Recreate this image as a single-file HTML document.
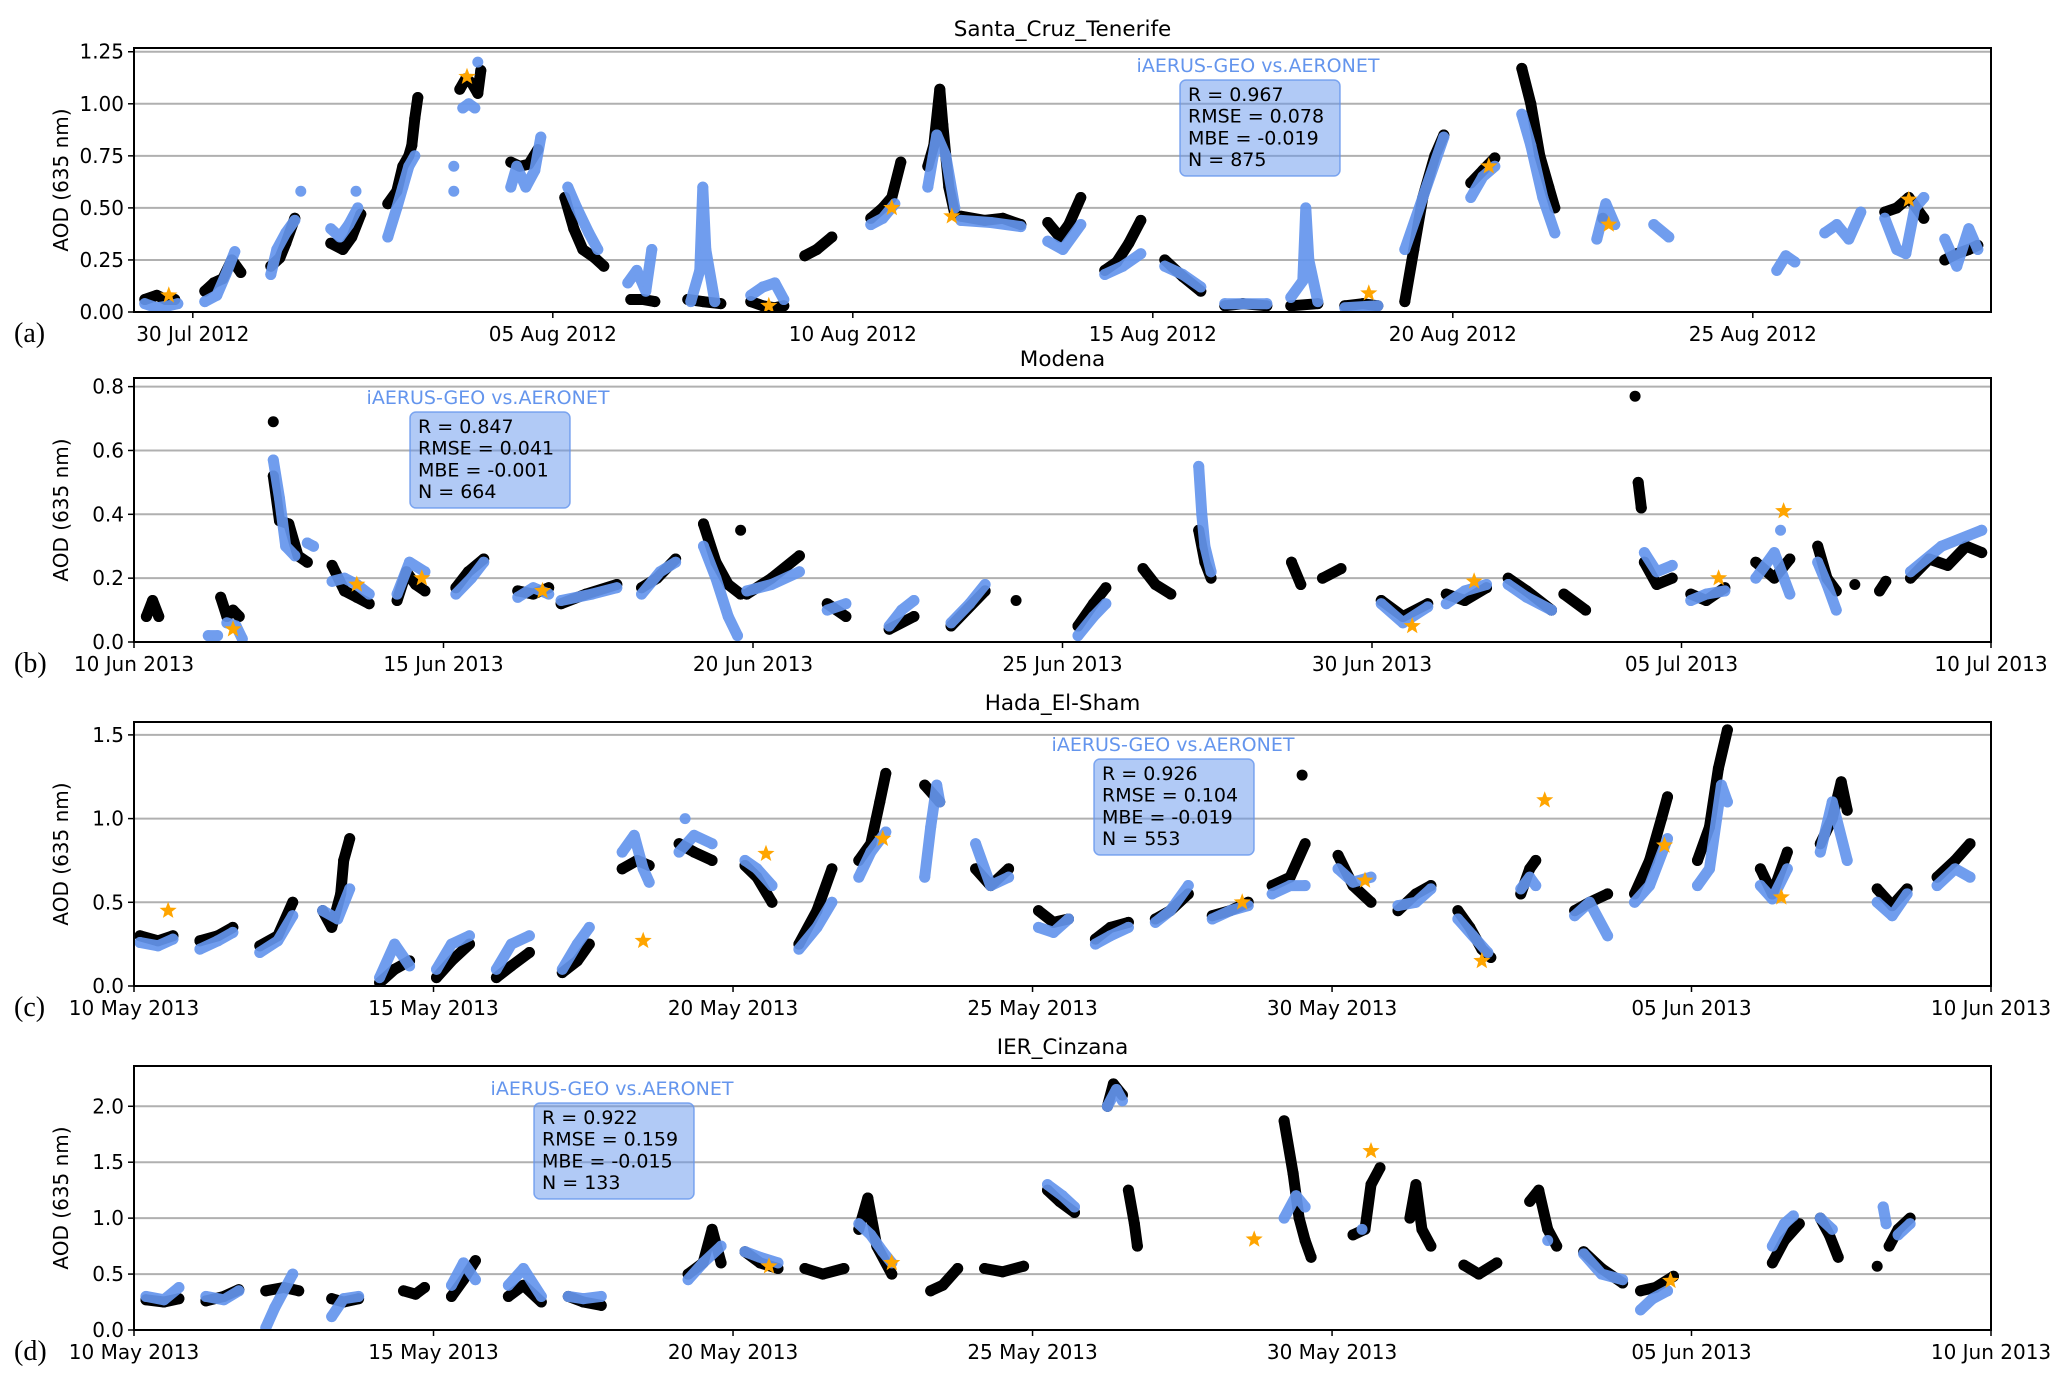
<!DOCTYPE html>
<html><head><meta charset="utf-8">
<style>
html,body{margin:0;padding:0;background:#fff;}
svg{display:block;font-family:"DejaVu Sans","Liberation Sans",sans-serif;}
</style></head>
<body>
<svg id="chart" width="2067" height="1383" viewBox="0 0 2067 1383" xmlns="http://www.w3.org/2000/svg"></svg>
<script>
// ---------- Panel (a) Santa_Cruz_Tenerife (day 0 = 30 Jul 2012) ----------
const aTickDays = [0, 6, 11, 16, 21, 26];
const aTickLabels = ["30 Jul 2012","05 Aug 2012","10 Aug 2012","15 Aug 2012","20 Aug 2012","25 Aug 2012"];
const aYTicks = [0, 0.25, 0.5, 0.75, 1.0, 1.25];
const aYLabels = ["0.00","0.25","0.50","0.75","1.00","1.25"];
const aBlack = [
[-0.8,0.06,-0.6,0.08,-0.45,0.06,-0.3,0.06],[0.2,0.1,0.35,0.14,0.5,0.16,0.65,0.25,0.8,0.19],
[1.3,0.22,1.45,0.26,1.55,0.33,1.7,0.45],[2.3,0.33,2.5,0.3,2.65,0.36,2.8,0.47],
[3.25,0.52,3.4,0.58,3.5,0.7,3.6,0.75,3.65,0.8,3.7,0.93,3.75,1.03],[4.45,1.07,4.55,1.12,4.65,1.1,4.75,1.05,4.8,1.16],
[5.3,0.72,5.45,0.7,5.6,0.71,5.75,0.78],[6.2,0.55,6.35,0.4,6.5,0.3,6.7,0.26,6.85,0.22],
[7.3,0.06,7.5,0.06,7.7,0.05],[8.25,0.06,8.5,0.05,8.8,0.04],[9.3,0.05,9.5,0.03,9.7,0.02,9.85,0.03],
[10.2,0.27,10.4,0.3,10.65,0.36],[11.3,0.45,11.5,0.5,11.65,0.55,11.8,0.72],
[12.25,0.7,12.35,0.8,12.45,1.07,12.5,0.9,12.6,0.6,12.7,0.47],[12.8,0.46,13.2,0.44,13.5,0.45,13.8,0.42],
[14.25,0.43,14.45,0.36,14.6,0.42,14.8,0.55],[15.2,0.2,15.4,0.24,15.6,0.33,15.8,0.44],
[16.2,0.25,16.5,0.17,16.8,0.1],[17.2,0.03,17.5,0.04,17.9,0.03],[18.3,0.03,18.75,0.04],[19.2,0.03,19.5,0.04,19.75,0.03],
[20.2,0.05,20.35,0.3,20.5,0.55,20.7,0.75,20.85,0.85],[21.3,0.62,21.5,0.68,21.7,0.74],
[22.15,1.17,22.3,1.0,22.45,0.75,22.6,0.6,22.7,0.5],[23.5,0.45],
[28.2,0.48,28.4,0.5,28.6,0.55,28.85,0.45],[29.2,0.25,29.4,0.28,29.6,0.3,29.75,0.32]
];
const aBlue = [
[-0.8,0.04,-0.6,0.02,-0.4,0.03,-0.25,0.04],[0.2,0.05,0.4,0.08,0.55,0.18,0.7,0.29],
[1.3,0.18,1.4,0.3,1.55,0.38,1.7,0.44],[1.8,0.58],[2.3,0.4,2.45,0.36,2.6,0.42,2.75,0.5],[2.72,0.58],
[3.25,0.36,3.4,0.5,3.5,0.6,3.6,0.7,3.7,0.75],[4.35,0.58],[4.35,0.7],[4.5,0.98,4.6,1.0,4.7,0.98],[4.75,1.2],
[5.3,0.6,5.4,0.7,5.55,0.6,5.7,0.68,5.8,0.84],[6.25,0.6,6.4,0.5,6.6,0.38,6.75,0.3],
[7.25,0.14,7.4,0.2,7.55,0.1,7.65,0.3],[8.3,0.05,8.45,0.2,8.5,0.6,8.55,0.3,8.7,0.05],
[9.3,0.08,9.5,0.12,9.7,0.14,9.85,0.06],[11.3,0.42,11.5,0.45,11.7,0.52],
[12.25,0.6,12.4,0.85,12.55,0.75,12.7,0.5],[12.8,0.44,13.3,0.43,13.8,0.41],[14.25,0.34,14.5,0.3,14.8,0.42],
[15.2,0.18,15.5,0.22,15.8,0.28],[16.2,0.22,16.5,0.18,16.8,0.12],[17.2,0.04,17.9,0.04],
[18.3,0.07,18.5,0.15,18.55,0.5,18.6,0.25,18.75,0.05],[19.2,0.02,19.75,0.03],[20.2,0.3,20.5,0.55,20.85,0.84],
[21.3,0.55,21.5,0.65,21.7,0.7],[22.15,0.95,22.3,0.8,22.5,0.55,22.7,0.38],[23.4,0.35,23.55,0.52,23.7,0.42],
[24.35,0.42,24.6,0.36],[26.4,0.2,26.55,0.27,26.7,0.24],[27.2,0.38,27.4,0.42,27.6,0.35,27.8,0.48],
[28.2,0.45,28.4,0.3,28.55,0.28,28.7,0.5,28.85,0.55],[29.2,0.35,29.4,0.22,29.6,0.4,29.75,0.3]
];
const aStars = [[-0.4,0.08],[4.57,1.13],[9.6,0.03],[11.65,0.5],[12.65,0.46],[19.6,0.09],[21.6,0.7],[23.6,0.42],[28.6,0.54]];
const aStats = ["R = 0.967","RMSE = 0.078","MBE = -0.019","N = 875"];

// ---------- Panel (b) Modena (day 0 = 10 Jun 2013) ----------
const bTickDays = [0,5,10,15,20,25,30];
const bTickLabels = ["10 Jun 2013","15 Jun 2013","20 Jun 2013","25 Jun 2013","30 Jun 2013","05 Jul 2013","10 Jul 2013"];
const bYTicks = [0,0.2,0.4,0.6,0.8];
const bYLabels = ["0.0","0.2","0.4","0.6","0.8"];
const bBlack = [
[0.2,0.08,0.3,0.13,0.4,0.08],[1.4,0.14,1.5,0.08,1.6,0.1,1.7,0.08],[2.25,0.69],
[2.25,0.52,2.35,0.38,2.5,0.37,2.65,0.27,2.8,0.25],[3.2,0.24,3.4,0.16,3.6,0.14,3.8,0.12],
[4.25,0.13,4.4,0.22,4.55,0.18,4.7,0.16],[5.2,0.17,5.4,0.22,5.65,0.26],[6.2,0.16,6.45,0.15,6.7,0.17],
[6.9,0.12,7.3,0.15,7.8,0.18],[8.2,0.17,8.45,0.2,8.75,0.26],[9.2,0.37,9.4,0.25,9.6,0.18,9.8,0.15],[9.8,0.35],
[9.9,0.15,10.3,0.2,10.75,0.27],[11.2,0.12,11.5,0.08],[12.2,0.04,12.6,0.08],[13.2,0.05,13.75,0.16],[14.25,0.13],
[15.25,0.05,15.5,0.12,15.7,0.17],[16.3,0.23,16.5,0.18,16.75,0.15],[17.2,0.35,17.3,0.25,17.4,0.2],
[18.7,0.25,18.85,0.18],[19.2,0.2,19.5,0.23],[20.15,0.13,20.5,0.08,20.9,0.12],[21.2,0.15,21.5,0.13,21.85,0.17],
[22.2,0.2,22.5,0.16,22.9,0.1],[23.1,0.15,23.45,0.1],[24.25,0.77],[24.3,0.5,24.35,0.42],[24.4,0.25,24.6,0.18,24.85,0.2],
[25.15,0.15,25.4,0.13,25.7,0.17],[26.2,0.25,26.5,0.2,26.75,0.26],[27.2,0.3,27.35,0.2,27.5,0.16],[27.8,0.18],
[28.2,0.16,28.3,0.19],[28.7,0.2,29.0,0.26,29.3,0.24,29.6,0.3,29.85,0.28]
];
const bBlue = [
[1.2,0.02,1.35,0.02],[1.5,0.06,1.65,0.05,1.75,0.01],[2.25,0.57,2.35,0.45,2.45,0.3,2.6,0.27],[2.8,0.31,2.9,0.3],
[3.2,0.19,3.4,0.2,3.6,0.18,3.8,0.15],[4.25,0.15,4.45,0.25,4.7,0.22],[5.2,0.15,5.45,0.2,5.65,0.25],
[6.2,0.14,6.45,0.17,6.7,0.15],[6.9,0.13,7.4,0.15,7.8,0.17],[8.2,0.15,8.5,0.22,8.75,0.25],
[9.2,0.3,9.4,0.2,9.6,0.08,9.75,0.02],[9.9,0.16,10.3,0.18,10.75,0.22],[11.2,0.1,11.5,0.12],
[12.2,0.05,12.4,0.1,12.6,0.13],[13.2,0.06,13.5,0.12,13.75,0.18],[15.25,0.02,15.5,0.08,15.7,0.12],
[17.2,0.55,17.25,0.4,17.3,0.3,17.4,0.22],[20.15,0.12,20.5,0.06,20.9,0.11],[21.2,0.12,21.5,0.16,21.85,0.18],
[22.2,0.18,22.5,0.14,22.9,0.1],[24.4,0.28,24.6,0.22,24.85,0.24],[25.15,0.13,25.4,0.15,25.7,0.16],
[26.2,0.2,26.5,0.28,26.75,0.15],[26.6,0.35],[27.2,0.25,27.35,0.18,27.5,0.1],[28.7,0.22,29.2,0.3,29.85,0.35]
];
const bStars = [[1.6,0.04],[3.6,0.18],[4.65,0.2],[6.6,0.16],[20.65,0.05],[21.65,0.19],[25.6,0.2],[26.65,0.41]];
const bStats = ["R = 0.847","RMSE = 0.041","MBE = -0.001","N = 664"];

// ---------- Panel (c) Hada_El-Sham (day 0 = 10 May 2013) ----------
const cTickDays = [0,5,10,15,20,26,31];
const cTickLabels = ["10 May 2013","15 May 2013","20 May 2013","25 May 2013","30 May 2013","05 Jun 2013","10 Jun 2013"];
const cYTicks = [0,0.5,1.0,1.5];
const cYLabels = ["0.0","0.5","1.0","1.5"];
const cBlack = [
[0.1,0.3,0.4,0.27,0.65,0.3],[1.1,0.27,1.4,0.3,1.65,0.35],[2.1,0.24,2.4,0.3,2.65,0.5],
[3.15,0.45,3.3,0.35,3.45,0.55,3.5,0.75,3.6,0.88],[4.1,0.02,4.35,0.1,4.6,0.15],[5.05,0.05,5.3,0.15,5.6,0.25],
[6.05,0.05,6.3,0.12,6.6,0.2],[7.15,0.08,7.4,0.15,7.6,0.25],[8.15,0.7,8.4,0.75,8.6,0.72],[9.1,0.85,9.35,0.8,9.65,0.75],
[10.2,0.72,10.4,0.65,10.65,0.5],[11.1,0.25,11.4,0.45,11.65,0.7],[12.1,0.75,12.3,0.85,12.45,1.1,12.55,1.27],
[13.2,1.2,13.45,1.1],[14.05,0.7,14.3,0.6,14.6,0.7],[15.1,0.45,15.35,0.38,15.6,0.4],[16.05,0.28,16.3,0.35,16.6,0.38],
[17.05,0.4,17.3,0.45,17.6,0.55],[18.0,0.42,18.3,0.45,18.6,0.5],[19.0,0.6,19.3,0.65,19.55,0.85],[19.5,1.26],
[20.1,0.78,20.35,0.6,20.65,0.5],[21.1,0.45,21.4,0.55,21.65,0.6],[22.1,0.45,22.3,0.35,22.5,0.22,22.65,0.17],
[23.15,0.55,23.3,0.7,23.4,0.75],[24.05,0.45,24.3,0.5,24.6,0.55],[25.05,0.55,25.3,0.75,25.5,1.0,25.6,1.13],
[26.1,0.75,26.3,0.95,26.45,1.3,26.6,1.53],[27.15,0.7,27.35,0.55,27.6,0.8],[28.15,0.85,28.35,1.0,28.5,1.22,28.6,1.05],
[29.1,0.58,29.35,0.48,29.6,0.58],[30.1,0.65,30.4,0.75,30.65,0.85]
];
const cBlue = [
[0.1,0.26,0.4,0.24,0.65,0.28],[1.1,0.22,1.4,0.27,1.65,0.32],[2.1,0.2,2.4,0.27,2.65,0.42],[3.15,0.45,3.4,0.4,3.6,0.58],
[4.1,0.05,4.35,0.25,4.6,0.12],[5.05,0.1,5.3,0.25,5.6,0.3],[6.05,0.1,6.3,0.25,6.6,0.3],[7.15,0.1,7.4,0.25,7.6,0.35],
[8.15,0.8,8.35,0.9,8.5,0.7,8.6,0.62],[9.1,0.8,9.35,0.9,9.65,0.85],[9.2,1.0],[10.2,0.75,10.4,0.7,10.65,0.6],
[11.1,0.22,11.4,0.35,11.65,0.5],[12.1,0.65,12.3,0.8,12.55,0.92],[13.2,0.65,13.3,0.95,13.4,1.2,13.45,1.1],
[14.05,0.85,14.3,0.6,14.6,0.65],[15.1,0.35,15.35,0.32,15.6,0.4],[16.05,0.25,16.3,0.3,16.6,0.35],
[17.05,0.38,17.3,0.45,17.6,0.6],[18.0,0.4,18.3,0.45,18.6,0.48],[19.0,0.55,19.3,0.6,19.55,0.6],
[20.1,0.7,20.35,0.62,20.65,0.65],[21.1,0.48,21.4,0.5,21.65,0.58],[22.1,0.4,22.35,0.3,22.6,0.2],
[23.15,0.58,23.3,0.65,23.4,0.6],[24.05,0.42,24.3,0.5,24.6,0.3],[25.05,0.5,25.3,0.6,25.6,0.88],
[26.1,0.6,26.3,0.7,26.5,1.2,26.6,1.1],[27.15,0.6,27.35,0.52,27.6,0.7],[28.15,0.8,28.35,1.1,28.6,0.75],
[29.1,0.5,29.35,0.42,29.6,0.55],[30.1,0.6,30.4,0.7,30.65,0.65]
];
const cStars = [[0.57,0.45],[8.5,0.27],[10.55,0.79],[12.5,0.88],[18.5,0.5],[20.55,0.63],[22.5,0.15],[23.55,1.11],[25.55,0.84],[27.5,0.53]];
const cStats = ["R = 0.926","RMSE = 0.104","MBE = -0.019","N = 553"];

// ---------- Panel (d) IER_Cinzana (day 0 = 10 May 2013) ----------
const dTickDays = [0,5,10,15,20,26,31];
const dTickLabels = ["10 May 2013","15 May 2013","20 May 2013","25 May 2013","30 May 2013","05 Jun 2013","10 Jun 2013"];
const dYTicks = [0,0.5,1.0,1.5,2.0];
const dYLabels = ["0.0","0.5","1.0","1.5","2.0"];
const dBlack = [
[0.2,0.27,0.5,0.25,0.75,0.28],[1.2,0.26,1.5,0.3,1.75,0.36],[2.2,0.35,2.5,0.38,2.75,0.35],[3.3,0.28,3.5,0.25,3.75,0.28],
[4.5,0.35,4.7,0.32,4.85,0.38],[5.3,0.3,5.5,0.45,5.7,0.62],[6.25,0.3,6.5,0.4,6.8,0.25],[7.25,0.3,7.5,0.25,7.8,0.22],
[9.25,0.5,9.5,0.6,9.65,0.9,9.8,0.6],[10.2,0.7,10.45,0.6,10.75,0.55],[11.2,0.55,11.5,0.5,11.85,0.55],
[12.1,0.9,12.25,1.18,12.4,0.75,12.65,0.5],[13.3,0.35,13.5,0.4,13.75,0.55],[14.2,0.55,14.5,0.52,14.85,0.57],
[15.25,1.25,15.45,1.15,15.7,1.05],[16.25,2.0,16.35,2.2,16.5,2.1],[16.6,1.25,16.7,0.95,16.75,0.75],
[19.2,1.87,19.35,1.4,19.45,1.0,19.55,0.8,19.65,0.65],[20.35,0.85,20.55,0.9,20.65,1.3,20.8,1.45],
[21.3,1.0,21.4,1.3,21.5,0.9,21.65,0.75],[22.2,0.58,22.45,0.5,22.75,0.6],[23.3,1.15,23.45,1.25,23.6,0.9,23.75,0.75],
[24.2,0.7,24.5,0.55,24.85,0.42],[25.15,0.35,25.4,0.38,25.7,0.48],[27.35,0.6,27.55,0.8,27.8,0.95],
[28.15,1.0,28.3,0.85,28.45,0.65],[29.1,0.57],[29.3,0.75,29.45,0.9,29.65,1.0]
];
const dBlue = [
[0.2,0.3,0.5,0.27,0.75,0.38],[1.2,0.3,1.5,0.27,1.75,0.35],[2.2,0.02,2.35,0.2,2.5,0.35,2.65,0.5],
[3.3,0.12,3.5,0.28,3.75,0.3],[5.3,0.4,5.5,0.6,5.7,0.45],[6.25,0.4,6.5,0.55,6.8,0.3],[7.25,0.3,7.5,0.28,7.8,0.3],
[9.25,0.45,9.5,0.6,9.8,0.75],[10.2,0.7,10.45,0.65,10.75,0.6],[12.1,0.95,12.3,0.85,12.5,0.7,12.65,0.6],
[15.25,1.3,15.5,1.2,15.7,1.1],[16.25,2.0,16.4,2.15,16.5,2.05],[19.2,1.0,19.4,1.2,19.55,1.1],[20.5,0.9],[23.6,0.8],
[24.2,0.68,24.5,0.5,24.85,0.45],[25.15,0.18,25.35,0.28,25.6,0.35],[27.35,0.75,27.55,0.95,27.7,1.02],
[28.15,1.0,28.35,0.9],[29.2,1.1,29.25,0.95],[29.45,0.85,29.65,0.95]
];
const dStars = [[10.6,0.57],[12.65,0.6],[18.7,0.81],[20.65,1.6],[25.65,0.44]];
const dStats = ["R = 0.922","RMSE = 0.159","MBE = -0.015","N = 133"];

const NS = "http://www.w3.org/2000/svg";
const svg = document.getElementById("chart");
const L = 134, R = 1991, H = 264;
function mk(tag, attrs, parent) {
  const e = document.createElementNS(NS, tag);
  for (const k in attrs) e.setAttribute(k, attrs[k]);
  parent.appendChild(e);
  return e;
}
function starPath(cx, cy, ro, ri) {
  let d = "";
  for (let i = 0; i < 10; i++) {
    const r = i % 2 ? ri : ro;
    const a = -Math.PI / 2 + i * Math.PI / 5;
    d += (i ? "L" : "M") + (cx + r * Math.cos(a)).toFixed(1) + "," + (cy + r * Math.sin(a)).toFixed(1);
  }
  return d + "Z";
}

const panels = [
 {key:"a", title:"Santa_Cruz_Tenerife", top:48, xmin:-0.98, xmax:29.97, ymax:1.268, tickDays:aTickDays, tickLabels:aTickLabels, yTicks:aYTicks, yLabels:aYLabels, black:aBlack, blue:aBlue, stars:aStars, stats:aStats, box:[1180,80], lab:[1258,72]},
 {key:"b", title:"Modena", top:378, xmin:0, xmax:30, ymax:0.827, tickDays:bTickDays, tickLabels:bTickLabels, yTicks:bYTicks, yLabels:bYLabels, black:bBlack, blue:bBlue, stars:bStars, stats:bStats, box:[410,412], lab:[488,404]},
 {key:"c", title:"Hada_El-Sham", top:722, xmin:0, xmax:31, ymax:1.577, tickDays:cTickDays, tickLabels:cTickLabels, yTicks:cYTicks, yLabels:cYLabels, black:cBlack, blue:cBlue, stars:cStars, stats:cStats, box:[1094,759], lab:[1173,751]},
 {key:"d", title:"IER_Cinzana", top:1066, xmin:0, xmax:31, ymax:2.36, tickDays:dTickDays, tickLabels:dTickLabels, yTicks:dYTicks, yLabels:dYLabels, black:dBlack, blue:dBlue, stars:dStars, stats:dStats, box:[534,1103], lab:[612,1095]}
];

panels.forEach(p => {
  const g = mk("g", {}, svg);
  
  
  const bot = p.top + H;
  const xs = d => L + (d - p.xmin) / (p.xmax - p.xmin) * (R - L);
  const ys = v => bot - v / p.ymax * H;

  p.yTicks.forEach((v, i) => {
    const y = ys(v);
    if (v > 0) {
      const gl = mk("line", {x1:L, x2:R, y1:y, y2:y, stroke:"#b0b0b0", "stroke-width":2}, g);
      
      
    }
    mk("line", {x1:L-6, x2:L, y1:y, y2:y, stroke:"#000", "stroke-width":1.5}, g);
    const t = mk("text", {x:L-10, y:y+7, "text-anchor":"end", "font-size":20, fill:"#000"}, g);
    t.textContent = p.yLabels[i];
    
    
  });
  p.tickDays.forEach((d, i) => {
    const x = xs(d);
    mk("line", {x1:x, x2:x, y1:bot, y2:bot+6, stroke:"#000", "stroke-width":1.5}, g);
    const t = mk("text", {x:x, y:bot+29, "text-anchor":"middle", "font-size":20, fill:"#000"}, g);
    t.textContent = p.tickLabels[i];
    
    
  });

  const cp = mk("clipPath", {id:"clip" + p.key}, g);
  mk("rect", {x:L, y:p.top, width:R-L, height:H}, cp);
  const dg = mk("g", {"clip-path":"url(#clip" + p.key + ")"}, g);

  function drawSeries(clusters, color, name, op) {
    const sg = mk("g", {opacity:op}, dg);
    
    
    clusters.forEach(c => {
      let pts = [];
      for (let i = 0; i < c.length; i += 2) pts.push([xs(c[i]), ys(c[i+1])]);
      if (pts.length > 1) {
        const pl = mk("polyline", {points: pts.map(q => q[0].toFixed(1) + "," + q[1].toFixed(1)).join(" "), fill:"none", stroke:color, "stroke-width":11, "stroke-linecap":"round", "stroke-linejoin":"round"}, sg);
        
        
      }
      pts.forEach(q => {
        const c2 = mk("circle", {cx:q[0], cy:q[1], r:5.5, fill:color}, sg);
        
        
      });
    });
  }
  drawSeries(p.black, "#000000", "aeronet-points", 1);
  drawSeries(p.blue, "#6495ED", "iaerus-geo-points", 0.92);
  p.stars.forEach(s => {
    const st = mk("path", {d: starPath(xs(s[0]), ys(s[1]), 9, 3.8), fill:"#FFA500"}, dg);
    
    
  });

  const fr = mk("rect", {x:L, y:p.top, width:R-L, height:H, fill:"none", stroke:"#000", "stroke-width":2}, g);
  
  

  const tt = mk("text", {x:(L+R)/2, y:p.top-12, "text-anchor":"middle", "font-size":21.5, fill:"#000"}, g);
  tt.textContent = p.title;
  
  

  const yl = mk("text", {x:0, y:0, "text-anchor":"middle", "font-size":20, fill:"#000", transform:"translate(68," + (p.top + H/2) + ") rotate(-90)"}, g);
  yl.textContent = "AOD (635 nm)";
  
  

  const pl = mk("text", {x:14, y:bot+30, "font-size":28, fill:"#000", "font-family":"Liberation Serif, serif"}, g);
  pl.textContent = "(" + p.key + ")";
  
  

  const bx = mk("rect", {x:p.box[0], y:p.box[1], width:160, height:96, rx:6, fill:"rgba(100,149,237,0.5)", stroke:"rgba(100,149,237,0.8)", "stroke-width":1.5}, g);
  
  
  const lb = mk("text", {x:p.lab[0], y:p.lab[1], "text-anchor":"middle", "font-size":19, fill:"#6495ED"}, g);
  lb.textContent = "iAERUS-GEO vs.AERONET";
  
  
  p.stats.forEach((s, i) => {
    const st = mk("text", {x:p.box[0]+8, y:p.box[1]+21+i*21.7, "font-size":19, fill:"#000"}, g);
    st.textContent = s;
    
    
  });
});
</script>
</body></html>
